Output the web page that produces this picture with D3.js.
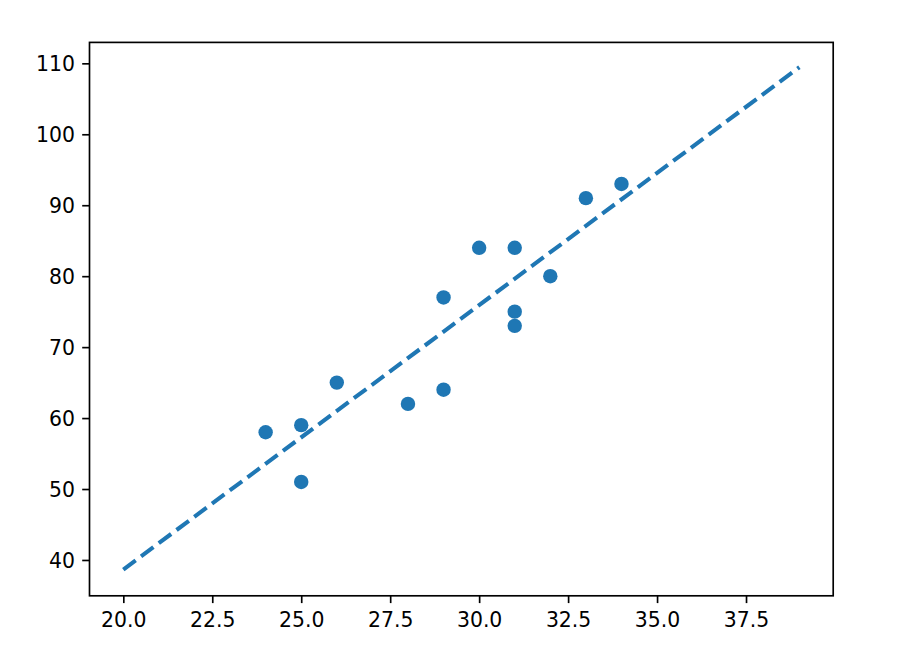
<!DOCTYPE html>
<html>
<head>
<meta charset="utf-8">
<script src="https://cdn.jsdelivr.net/npm/d3@7"></script>
<style>
  html, body { margin: 0; padding: 0; background: #ffffff; }
  svg { display: block; }
  text { font-family: "DejaVu Sans", sans-serif; fill: #000; }
</style>
</head>
<body>
<svg id="chart" width="897" height="669"></svg>
<script>
// ---- data ----
const xValues = [24, 25, 25, 26, 28, 29, 29, 30, 31, 31, 31, 32, 33, 34];
const yValues = [58, 59, 51, 65, 62, 77, 64, 84, 84, 75, 73, 80, 91, 93];
// fitted (dashed) line end points
const lineX = [20, 39];
const lineY = [38.65, 109.45];
// ticks
const xTicks = [20.0, 22.5, 25.0, 27.5, 30.0, 32.5, 35.0, 37.5];
const yTicks = [40, 50, 60, 70, 80, 90, 100, 110];

(function () {
const color = "#1f77b4";
const axLeft = 89.5, axRight = 833.2, axTop = 42.4, axBottom = 595.8;

const svg = d3.select("#chart");

const x = d3.scaleLinear().domain([19.05, 39.95]).range([axLeft, axRight]);
const y = d3.scaleLinear().domain([34.95, 112.95]).range([axBottom, axTop]);

const fontSize = 20.4;
const tickLen = 7.3, tickPad = 7.3, spineW = 1.67;

// points
const pts = xValues.map((v, i) => ({x: v, y: yValues[i]}));
svg.append("g").selectAll("circle")
  .data(pts).join("circle")
  .attr("cx", d => x(d.x))
  .attr("cy", d => y(d.y))
  .attr("r", 7.2)
  .attr("fill", color);

// dashed fit line
const lineData = lineX.map((v, i) => ({x: v, y: lineY[i]}));
svg.append("path")
  .datum(lineData)
  .attr("d", d3.line().x(d => x(d.x)).y(d => y(d.y)))
  .attr("fill", "none")
  .attr("stroke", color)
  .attr("stroke-width", 4.1)
  .attr("stroke-dasharray", "15.4 6.7")
  .attr("stroke-linecap", "butt");

// axes (matplotlib style)
const xAxis = d3.axisBottom(x).tickValues(xTicks).tickFormat(d3.format(".1f"))
  .tickSize(tickLen).tickPadding(tickPad);
const yAxis = d3.axisLeft(y).tickValues(yTicks).tickFormat(d3.format("d"))
  .tickSize(tickLen).tickPadding(tickPad);

const gx = svg.append("g").attr("transform", `translate(0,${axBottom})`).call(xAxis);
const gy = svg.append("g").attr("transform", `translate(${axLeft},0)`).call(yAxis);

[gx, gy].forEach(g => {
  g.select(".domain").remove();
  g.selectAll(".tick line").attr("stroke", "#000").attr("stroke-width", spineW);
  g.selectAll(".tick text")
    .attr("fill", "#000")
    .style("font-family", "'DejaVu Sans', sans-serif")
    .style("font-size", fontSize + "px");
});
gx.selectAll(".tick text").attr("dy", null).attr("y", tickLen + tickPad + 16.6);
gy.selectAll(".tick text").attr("dy", null).attr("y", 7.4);

// spines
svg.append("rect")
  .attr("x", axLeft).attr("y", axTop)
  .attr("width", axRight - axLeft).attr("height", axBottom - axTop)
  .attr("fill", "none").attr("stroke", "#000").attr("stroke-width", spineW);
})();
</script>
</body>
</html>
